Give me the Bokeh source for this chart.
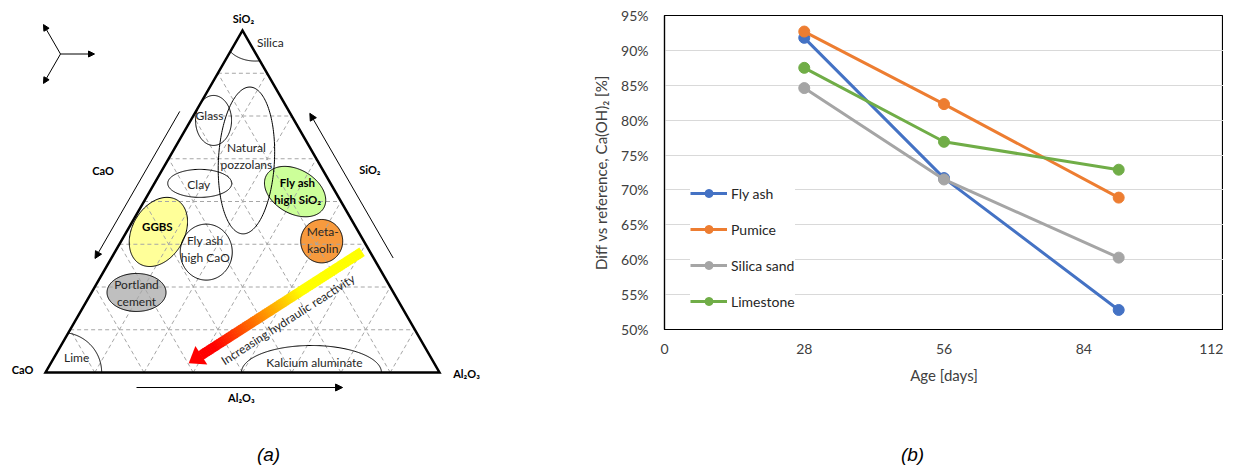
import numpy as np
from bokeh.plotting import figure
from bokeh.models import (Range1d, Arrow, NormalHead, Legend, LegendItem,
                          FixedTicker, NumeralTickFormatter)
from bokeh.layouts import row, column
from bokeh.embed import file_html
from bokeh.resources import INLINE
from bokeh.core.properties import value

# ------------------------------------------------------------------ data (b)
age_days = [28, 56, 91]
fly_ash = [91.8, 71.7, 52.8]
pumice = [92.7, 82.3, 68.9]
silica_sand = [84.6, 71.5, 60.3]
limestone = [87.5, 76.9, 72.9]
series_names = ["Fly ash", "Pumice", "Silica sand", "Limestone"]
series_colors = ["#4472C4", "#ED7D31", "#A5A5A5", "#70AD47"]
x_ticks = [0, 28, 56, 84, 112]
y_ticks_pct = [50, 55, 60, 65, 70, 75, 80, 85, 90, 95]

# ------------------------------------------------------------------ data (a)
region_labels = ["Glass", "Natural\npozzolans", "Clay", "Fly ash\nhigh SiO₂", "GGBS",
                 "Fly ash\nhigh CaO", "Meta-\nkaolin", "Portland\ncement"]
region_sio2 = [73.7, 62.0, 55.3, 52.9, 41.1, 35.2, 38.4, 23.4]
region_al2o3 = [5.8, 20.0, 11.5, 36.9, 8.1, 23.2, 50.9, 11.4]
edge_labels = ["Silica", "Lime", "Kalcium aluminate"]
edge_sio2 = [97.5, 0.0, 0.0]
edge_al2o3 = [4.5, 4.1, 67.5]
corner_labels = ["CaO", "Al₂O₃", "SiO₂"]
trend_label = "Increasing hydraulic reactivity"
captions = ["(a)", "(b)"]

# ------------------------------------------------------------------ styles / layout
FONT_NAME = "Lato"
FONT = value(FONT_NAME)
TXT = "#262626"
region_fill = [None, None, None, "#CCFF99", "#FFFF99", None, "#F79A3E", "#BFBFBF"]
region_bold = [False, False, False, True, True, False, False, False]
region_rx = [18, 28, 32, 33, 37, 26, 21, 29.5]
region_ry = [25, 73.5, 14, 22, 26, 28, 21.7, 19]
region_rot = [0, 3, 0, 30, -60, 0, 0, 0]
region_dx = [-4, 0, -1, 2.5, -1, -1, 1, 0]
region_dy = [-5, -4.5, 1, -0.5, -5.5, -3, -1, 0.5]
edge_rx = [30.4, 40, 70]
edge_ry = [22, 40, 27]
edge_dx = [15, 15, 3]
edge_dy = [3.5, -15, -10]

LW, RW = 584, 639
TOP_H = 436
CAP_H = 30

TRI_L = (45.0, 372.0)
TRI_R = (439.0, 372.0)
TRI_T = (242.0, 30.0)


def tern(si, al):
    si, al = si / 100.0, al / 100.0
    ca = 1.0 - si - al
    return (ca * TRI_L[0] + al * TRI_R[0] + si * TRI_T[0],
            ca * TRI_L[1] + al * TRI_R[1] + si * TRI_T[1])


def inside(x, y):
    si = (TRI_L[1] - y) / (TRI_L[1] - TRI_T[1])
    al = (x - TRI_L[0] - si * (TRI_T[0] - TRI_L[0])) / (TRI_R[0] - TRI_L[0])
    ca = 1 - si - al
    return (si >= -1e-6) & (al >= -1e-6) & (ca >= -1e-6)


def ell(cx, cy, a, b, rot, n=180):
    th = np.linspace(0, 2 * np.pi, n)
    ph = np.radians(rot)
    x = cx + a * np.cos(th) * np.cos(ph) - b * np.sin(th) * np.sin(ph)
    y = cy + a * np.cos(th) * np.sin(ph) + b * np.sin(th) * np.cos(ph)
    return x, y


# ================================================================== panel (a)
pa = figure(width=LW, height=TOP_H, x_range=Range1d(0, LW), y_range=Range1d(TOP_H, 0),
            output_backend="svg", toolbar_location=None, min_border=0,
            x_axis_location=None, y_axis_location=None, outline_line_color=None)
pa.xgrid.visible = False
pa.ygrid.visible = False

ell_pts = []
for i in range(len(region_labels)):
    cx, cy = tern(region_sio2[i], region_al2o3[i])
    ex, ey = ell(cx, cy, region_rx[i], region_ry[i], region_rot[i])
    ell_pts.append((ex, ey, cx, cy))
    if region_fill[i]:
        pa.patch(ex, ey, fill_color=region_fill[i], line_color=None)

gxs, gys = [], []
for k in range(1, 8):
    f = 100.0 * k / 8
    for p0, p1 in [(tern(f, 0), tern(f, 100 - f)),
                   (tern(0, f), tern(100 - f, f)),
                   (tern(0, 100 - f), tern(100 - f, 0))]:
        gxs.append([p0[0], p1[0]])
        gys.append([p0[1], p1[1]])
pa.multi_line(gxs, gys, line_color="#A6A6A6", line_width=1, line_dash="4 3")

for ex, ey, cx, cy in ell_pts:
    pa.line(ex, ey, line_color="black", line_width=1)

edge_centers = []
for i in range(len(edge_labels)):
    cx, cy = tern(edge_sio2[i], edge_al2o3[i])
    edge_centers.append((cx, cy))
    ex, ey = ell(cx, cy, edge_rx[i], edge_ry[i], 0, n=400)
    mask = inside(ex, ey)
    ex = np.where(mask, ex, np.nan)
    ey = np.where(mask, ey, np.nan)
    pa.line(ex, ey, line_color="black", line_width=1)

tri = [TRI_L, TRI_R, TRI_T]
pa.patch([p[0] for p in tri], [p[1] for p in tri], fill_color=None,
         line_color="black", line_width=2.5, line_join="miter")

tail = tern(35.3, 62.7)
tip = tern(2.7, 35.0)
dxv, dyv = tip[0] - tail[0], tip[1] - tail[1]
Ltot = np.hypot(dxv, dyv)
ux, uy = dxv / Ltot, dyv / Ltot
nx, ny = -uy, ux
head_len, head_w, body_w = 15.0, 22.0, 10.0
body_len = Ltot - head_len
N = 80
qx, qy, qc = [], [], []
for i in range(N):
    s0 = body_len * i / N
    s1 = min(body_len * (i + 1) / N + 0.6, body_len + 0.5)
    f = (i + 0.5) / N * body_len / Ltot
    g = 255 if f < 0.35 else max(0, int(round(255 * (1 - (f - 0.35) / 0.5))))
    qc.append("#%02x%02x%02x" % (255, g, 0))
    pts = [(tail[0] + ux * s0 + nx * body_w / 2, tail[1] + uy * s0 + ny * body_w / 2),
           (tail[0] + ux * s1 + nx * body_w / 2, tail[1] + uy * s1 + ny * body_w / 2),
           (tail[0] + ux * s1 - nx * body_w / 2, tail[1] + uy * s1 - ny * body_w / 2),
           (tail[0] + ux * s0 - nx * body_w / 2, tail[1] + uy * s0 - ny * body_w / 2)]
    qx.append([p[0] for p in pts])
    qy.append([p[1] for p in pts])
pa.patches(qx, qy, fill_color=qc, line_color=None)
bx, by = tail[0] + ux * body_len, tail[1] + uy * body_len
pa.patch([bx + nx * head_w / 2, tip[0], bx - nx * head_w / 2],
         [by + ny * head_w / 2, tip[1], by - ny * head_w / 2],
         fill_color="#FF0000", line_color=None)
tpos = (tail[0] + ux * 0.48 * Ltot - nx * 16.8, tail[1] + uy * 0.48 * Ltot - ny * 16.8)
tang = np.arctan2(tip[1] - tail[1], tail[0] - tip[0])
pa.text([tpos[0]], [tpos[1]], text=[trend_label], angle=tang, text_font=FONT,
        text_font_size="12px", text_color=TXT, text_align="center", text_baseline="middle")

for i, lab in enumerate(region_labels):
    cx, cy = ell_pts[i][2], ell_pts[i][3]
    lines = lab.split("\n")
    for j, ln in enumerate(lines):
        yy = cy + region_dy[i] + (j - (len(lines) - 1) / 2) * 17
        pa.text([cx + region_dx[i]], [yy], text=[ln], text_font=FONT,
                text_font_size="11.5px" if region_bold[i] else "12px",
                text_font_style="bold" if region_bold[i] else "normal",
                text_color="black" if region_bold[i] else TXT,
                text_align="center", text_baseline="middle")
for i, lab in enumerate(edge_labels):
    cx, cy = edge_centers[i]
    pa.text([cx + edge_dx[i]], [cy + edge_dy[i]], text=[lab], text_font=FONT,
            text_font_size="12px", text_color=TXT, text_align="center", text_baseline="middle")

corner_pts = [(TRI_L[0] - 23, TRI_L[1] - 3), (TRI_R[0] + 27, TRI_R[1] + 1), (TRI_T[0] + 1, TRI_T[1] - 12)]
for lab, (x, y) in zip(corner_labels, corner_pts):
    pa.text([x], [y], text=[lab], text_font=FONT, text_font_size="11px", text_font_style="bold",
            text_color="black", text_align="center", text_baseline="middle")


def side_arrow(P, Q, t0, t1, off, lab_t, lab_off, lab):
    P = np.array(P); Q = np.array(Q)
    d = (Q - P) / np.linalg.norm(Q - P)
    n = np.array([-d[1], d[0]])
    cen = (np.array(TRI_L) + np.array(TRI_R) + np.array(TRI_T)) / 3
    if np.dot(n, P - cen) < 0:
        n = -n
    Lp = np.linalg.norm(Q - P)
    a0 = P + d * t0 * Lp + n * off
    a1 = P + d * t1 * Lp + n * off
    pa.add_layout(Arrow(end=NormalHead(size=7, fill_color="black", line_color="black", line_width=1),
                        x_start=a0[0], y_start=a0[1], x_end=a1[0], y_end=a1[1],
                        line_color="black", line_width=1))
    lp = P + d * lab_t * Lp + n * lab_off
    pa.text([lp[0]], [lp[1]], text=[lab], text_font=FONT, text_font_size="11px",
            text_font_style="bold", text_color="black", text_align="center", text_baseline="middle")


side_arrow(TRI_T, TRI_L, 0.257, 0.687, 14, 0.484, 51, corner_labels[0])
side_arrow(TRI_R, TRI_T, 0.31, 0.733, 17, 0.534, 41, corner_labels[2])
side_arrow(TRI_L, TRI_R, 0.231, 0.754, 15, 0.497, 25, corner_labels[1])

icx, icy, ilen = 60.0, 53.5, 34.0
for ang in (0, 120, 240):
    a = np.radians(ang)
    pa.add_layout(Arrow(end=NormalHead(size=6, fill_color="black", line_color="black", line_width=1),
                        x_start=icx, y_start=icy, x_end=icx + ilen * np.cos(a), y_end=icy - ilen * np.sin(a),
                        line_color="black", line_width=1))

# ================================================================== panel (b)
FL, FR, FT, FB = 664, 1225, 15, 329
pb = figure(width=RW, height=TOP_H, x_range=Range1d(0, 112), y_range=Range1d(0.5, 0.95),
            output_backend="svg", toolbar_location=None,
            min_border_left=FL - LW, min_border_right=(LW + RW) - FR,
            min_border_top=FT, min_border_bottom=TOP_H - FB)
pb.outline_line_color = "black"
pb.outline_line_width = 1.2
pb.xgrid.visible = False
pb.ygrid.grid_line_color = "#D9D9D9"
pb.ygrid.grid_line_width = 1
pb.xaxis.ticker = FixedTicker(ticks=x_ticks)
pb.yaxis.ticker = FixedTicker(ticks=[v / 100 for v in y_ticks_pct])
pb.yaxis.formatter = NumeralTickFormatter(format="0%")
for ax in (pb.xaxis[0], pb.yaxis[0]):
    ax.major_tick_in = 0
    ax.major_tick_out = 0
    ax.minor_tick_in = 0
    ax.minor_tick_out = 0
    ax.axis_line_color = "black"
    ax.axis_line_width = 1.2
    ax.major_label_text_font = FONT_NAME
    ax.major_label_text_font_size = "14px"
    ax.major_label_text_color = "#404040"
    ax.axis_label_text_font = FONT_NAME
    ax.axis_label_text_font_size = "15px"
    ax.axis_label_text_font_style = "normal"
    ax.axis_label_text_color = "#404040"
pb.xaxis.axis_label = "Age [days]"
pb.yaxis.axis_label = "Diff vs reference, Ca(OH)₂ [%]"
pb.xaxis.major_label_standoff = 14
pb.xaxis.axis_label_standoff = 9
pb.yaxis.major_label_standoff = 16
pb.yaxis.axis_label_standoff = 8

items = []
for name, vals, col in zip(series_names, [fly_ash, pumice, silica_sand, limestone], series_colors):
    yv = [v / 100 for v in vals]
    r1 = pb.line(age_days, yv, line_color=col, line_width=3)
    r2 = pb.scatter(age_days, yv, size=11, fill_color=col, line_color=col)
    items.append(LegendItem(label=name, renderers=[r1, r2]))
legend = Legend(items=items, location=(26, 18), glyph_width=37, glyph_height=20, label_height=20,
                spacing=16, padding=14, margin=0, label_standoff=4, border_line_color=None,
                background_fill_color="white", background_fill_alpha=1.0,
                label_text_font=FONT_NAME, label_text_font_size="14px", label_text_color="#262626")
pb.add_layout(legend, "center")

# ================================================================== captions strip
pc = figure(width=LW + RW, height=CAP_H, x_range=Range1d(0, LW + RW), y_range=Range1d(TOP_H + CAP_H, TOP_H),
            output_backend="svg", toolbar_location=None, min_border=0,
            x_axis_location=None, y_axis_location=None, outline_line_color=None)
pc.xgrid.visible = False
pc.ygrid.visible = False
pc.text([268, 912], [454, 454], text=captions, text_font=value("Liberation Sans"), text_font_size="19px",
        text_font_style="italic", text_color="black", text_align="center", text_baseline="middle")

layout = column(row(column(pa), column(pb)), pc)
open("out.html", "w").write(file_html(layout, INLINE))
